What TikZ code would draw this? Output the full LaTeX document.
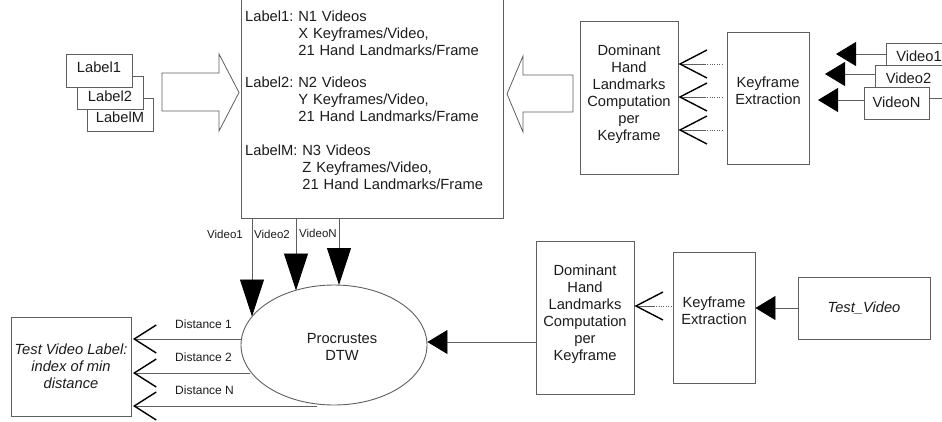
\documentclass[tikz,border=0pt]{standalone}
\usepackage{fontspec}
\setmainfont{Liberation Sans}
\frenchspacing
\usetikzlibrary{arrows.meta,shapes.geometric,calc}
\definecolor{ln}{RGB}{95,95,95}
\definecolor{tx}{RGB}{28,28,28}
\tikzset{
  box/.style={draw=ln, line width=0.9pt, fill=white, rectangle, inner sep=0pt, align=center},
  onebox/.style={box, text depth=6pt},
  lowbox/.style={box, text height=#1, text depth=0pt},
  txt/.style={inner sep=0pt, align=center},
  small/.style={inner sep=0pt, font=\fontsize{11.5}{13}\selectfont},
  dlab/.style={inner sep=0pt, font=\fontsize{12}{14}\selectfont},
  kbtxt/.style={inner sep=0pt, anchor=base west, text width=255pt, align=left},
  blockarrow/.style={draw=ln, line width=0.8pt, fill=white},
  farrow/.style={draw=ln, line width=0.9pt, -{Triangle[length=20pt,width=24pt,color=black,fill=black]}},
  varrow/.style={draw=ln, line width=0.9pt, -{Triangle[length=37pt,width=24pt,color=black,fill=black]}},
  oarrow/.style={draw=ln, line width=0.9pt, -{Straight Barb[length=27pt,width=28pt,line width=1.4pt,color=black]}},
  doarrow/.style={oarrow, dash pattern=on 1pt off 1.4pt on 1pt off 1.4pt on 1pt off 1.4pt on 1pt off 1.4pt on 1pt off 1.4pt on 1pt off 1.4pt on 1pt off 1.4pt on 60pt off 1pt},
  sarrow/.style={draw=ln, line width=0.9pt, -{Straight Barb[length=22pt,width=28pt,line width=1.4pt,color=black]}},
}
\begin{document}
\begin{tikzpicture}[x=1pt, y=-1pt, font=\fontsize{14.7}{17}\selectfont, text=tx]
\useasboundingbox (0,0) rectangle (942,421);

% label stack (left)
\node[lowbox=15.5pt, minimum width=66, minimum height=33] (labM) at (120,114.5) {LabelM};
\node[lowbox=17.5pt, minimum width=66, minimum height=33] (lab2) at (110,92.5) {Label2};
\node[onebox, minimum width=66, minimum height=33] (lab1) at (99,70.5) {Label1};

% block arrow left -> right
\draw[blockarrow] (162,73) -- (219,73) -- (219,54) -- (239,92.5) -- (219,131) -- (219,111) -- (162,111) -- cycle;

% big database box
\node[box, minimum width=262, minimum height=220] (kb) at (372,108.5) {};
\node[kbtxt] (g1) at (245,21) {Label1: N1 Videos\\\phantom{Label1: }X Keyframes/Video,\\\phantom{Label1: }21 Hand Landmarks/Frame};
\node[kbtxt] (g2) at (245,87) {Label2: N2 Videos\\\phantom{Label2: }Y Keyframes/Video,\\\phantom{Label2: }21 Hand Landmarks/Frame};
\node[kbtxt] (g3) at (245,155) {LabelM: N3 Videos\\\phantom{LabelM: }Z Keyframes/Video,\\\phantom{LabelM: }21 Hand Landmarks/Frame};

% block arrow right -> left
\draw[blockarrow] (573,75) -- (523,75) -- (523,56) -- (507,94) -- (523,132) -- (523,112) -- (573,112) -- cycle;

% top pipeline
\node[box, minimum width=98, minimum height=153] (domT) at (629,98) {};
\node[txt] (domTt) at (629,94.5) {Dominant\\Hand\\Landmarks\\Computation\\per\\Keyframe};
\node[box, minimum width=82, minimum height=132] (keyT) at (768,98) {};
\node[txt] (keyTt) at (768,90.5) {Keyframe\\Extraction};

\node[onebox, minimum width=66, minimum height=33] (v1) at (919,59.5) {Video1};
\node[onebox, minimum width=67, minimum height=33] (v2) at (908.5,81.5) {Video2};
\node[box, text depth=2pt, minimum width=65, minimum height=32] (vN) at (896.5,103) {VideoN};

\coordinate (t1) at (836,54);
\coordinate (t2) at (825,74);
\coordinate (t3) at (818,100);
\draw[farrow] (t1 -| v1.west) -- (t1);
\draw[farrow] (t2 -| v2.west) -- (t2);
\draw[farrow] (t3 -| vN.west) -- (t3);

\draw[doarrow, shorten <=4pt] ([yshift=34pt]keyT.west) -- ([yshift=34pt]domT.east);
\draw[doarrow, shorten <=4pt] ([yshift=1pt]keyT.west) -- ([yshift=1pt]domT.east);
\draw[doarrow, shorten <=4pt] ([yshift=-32pt]keyT.west) -- ([yshift=-32pt]domT.east);

% bottom pipeline
\node[box, minimum width=98, minimum height=153] (domB) at (585,317.5) {};
\node[txt] (domBt) at (585,314) {Dominant\\Hand\\Landmarks\\Computation\\per\\Keyframe};
\node[box, minimum width=82, minimum height=131] (keyB) at (714,317.5) {};
\node[txt] (keyBt) at (714,310.5) {Keyframe\\Extraction};
\node[box, minimum width=132, minimum height=62] (testv) at (864,308) {\itshape Test\_Video};

\draw[farrow] (testv.west) -- (testv.west -| keyB.east);
\draw[doarrow, shorten <=1pt] ([yshift=11.5pt]keyB.west) -- ([yshift=11.5pt]domB.east);

% Procrustes DTW
\node[draw=ln, line width=0.9pt, ellipse, minimum width=186, minimum height=120, inner sep=0pt] (dtw) at (334,345) {};
\node[txt] (dtwt) at (342,347) {Procrustes\\DTW};

\coordinate (din) at ($(dtw.east)+(0,-3)$);
\draw[farrow] (din -| domB.west) -- (din);

% video arrows into DTW
\coordinate (e1) at (252,316.5);
\coordinate (e2) at (296,290.5);
\coordinate (e3) at (339,285);
\draw[varrow] (e1 |- kb.south) -- (e1);
\draw[varrow] (e2 |- kb.south) -- (e2);
\draw[varrow] (e3 |- kb.south) -- (e3);
\node[small, anchor=east] (lv1) at (243,234) {Video1};
\node[small, anchor=west] (lv2) at (254,234) {Video2};
\node[small, anchor=west] (lvN) at (299,233) {VideoN};

% result box
\node[box, minimum width=120, minimum height=99] (tvl) at (71,366.5) {\itshape Test Video Label:\\\itshape index of min\\\itshape distance};

\coordinate (d1) at (241.5,339);
\coordinate (d2) at (250,373);
\coordinate (d3) at (317,406);
\draw[sarrow, shorten >=1.5pt] (d1) -- (d1 -| tvl.east);
\draw[sarrow, shorten >=1.5pt] (d2) -- (d2 -| tvl.east);
\draw[sarrow, shorten >=1.5pt] (d3) -- (d3 -| tvl.east);
\node[dlab, anchor=west] (ld1) at (175,324) {Distance 1};
\node[dlab, anchor=west] (ld2) at (175,357) {Distance 2};
\node[dlab, anchor=west] (ld3) at (175,390) {Distance N};
\end{tikzpicture}
\end{document}
